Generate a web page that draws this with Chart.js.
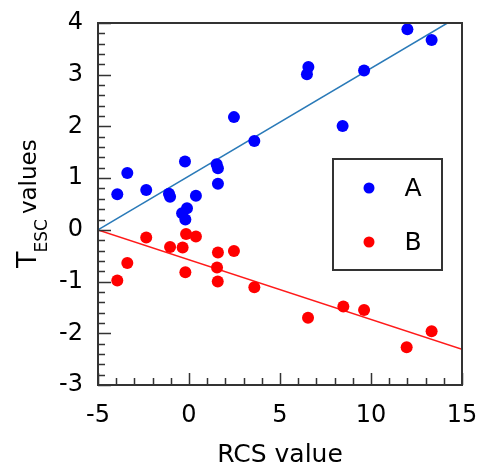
<!DOCTYPE html>
<html>
<head>
<meta charset="utf-8">
<script src="https://cdn.jsdelivr.net/npm/chart.js@4"></script>
<style>
  html, body { margin: 0; padding: 0; background: #fff; }
  canvas { display: block; }
</style>
</head>
<body>
<canvas id="chart" width="481" height="470"></canvas>
<script>
// T_ESC vs RCS scatter, two groups with their fitted lines

// tick labels
const xTicks = [-5, 0, 5, 10, 15];
const yTicks = [-3, -2, -1, 0, 1, 2, 3, 4];

// group A, [rcs, tesc]
const groupA = [
  [12.0, 3.88], [13.33, 3.67], [6.56, 3.15], [6.48, 3.01], [9.62, 3.08],
  [2.47, 2.18], [8.44, 2.01], [3.59, 1.72], [-0.22, 1.32], [-3.39, 1.10],
  [1.52, 1.27], [1.59, 1.19], [1.59, 0.89], [-3.94, 0.69], [-2.35, 0.77],
  [-1.04, 0.64], [-1.1, 0.7], [0.38, 0.66], [-0.11, 0.42], [-0.38, 0.32],
  [-0.20, 0.20]
];

// group B
const groupB = [
  [-2.35, -0.15], [-1.04, -0.33], [-0.35, -0.34], [-0.16, -0.08], [0.38, -0.13],
  [1.59, -0.44], [2.47, -0.41], [-3.39, -0.64], [-3.94, -0.98], [-0.20, -0.82],
  [1.54, -0.73], [1.58, -1.00], [3.59, -1.11], [6.54, -1.70], [8.48, -1.48],
  [9.62, -1.55], [11.96, -2.27], [13.33, -1.96]
];

// fitted lines, end points
const fitA = [[-5, 0], [14.2, 4]];
const fitB = [[-5, 0], [15, -2.31]];

const seriesNames = ["A", "B"];
const blue = "#0000ff";
const red = "#ff0000";

const FONT = "'DejaVu Sans', Verdana, sans-serif";

function toXY(arr) {
  return arr.map(p => ({ x: p[0], y: p[1] }));
}

// frame + inward tick marks, major and minor
const framePlugin = {
  id: "frame",
  afterDatasetsDraw(chart) {
    const { ctx, chartArea: a, scales } = chart;
    const xs = scales.x, ys = scales.y;
    ctx.save();
    ctx.strokeStyle = "#333";
    ctx.lineWidth = 1.5;
    ctx.beginPath();
    // x ticks every 1, longer at multiples of 5
    for (let v = xs.min; v <= xs.max; v += 1) {
      const px = Math.round(xs.getPixelForValue(v)) + 0.5;
      const len = (v % 5 === 0) ? 12 : 7;
      ctx.moveTo(px, a.bottom);
      ctx.lineTo(px, a.bottom - len);
    }
    // y ticks every 0.2, longer at integers
    for (let i = 0; i <= (ys.max - ys.min) * 5; i++) {
      const v = ys.min + i / 5;
      const py = Math.round(ys.getPixelForValue(v)) + 0.5;
      const len = (i % 5 === 0) ? 13 : 7;
      ctx.moveTo(a.left, py);
      ctx.lineTo(a.left + len, py);
    }
    ctx.stroke();
    ctx.lineWidth = 2;
    ctx.strokeRect(a.left, a.top, a.right - a.left, a.bottom - a.top);
    ctx.restore();
  }
};

// y title with subscript, and the boxed legend inside the plot
const labelsPlugin = {
  id: "labels",
  afterDraw(chart) {
    const { ctx } = chart;
    ctx.save();
    ctx.fillStyle = "#000";
    ctx.textBaseline = "alphabetic";
    ctx.textAlign = "left";

    // rotated "T_ESC values"
    ctx.save();
    ctx.translate(36, 268);
    ctx.rotate(-Math.PI / 2);
    ctx.font = "27px " + FONT;
    ctx.fillText("T", 0, 0);
    let w = ctx.measureText("T").width;
    ctx.font = "17px " + FONT;
    ctx.fillText("ESC", w - 1, 11);
    w += ctx.measureText("ESC").width + 4;
    ctx.font = "23px " + FONT;
    ctx.fillText("values", w, 0);
    ctx.restore();

    // legend box
    const bx = 333, by = 159, bw = 109, bh = 111;
    ctx.fillStyle = "#fff";
    ctx.fillRect(bx, by, bw, bh);
    ctx.strokeStyle = "#333";
    ctx.lineWidth = 2;
    ctx.strokeRect(bx, by, bw, bh);
    const rows = [by + 29, by + 83];
    ctx.font = "25px " + FONT;
    ctx.textBaseline = "middle";
    ctx.textAlign = "center";
    chart.data.datasets.slice(0, 2).forEach((ds, i) => {
      ctx.fillStyle = ds.backgroundColor;
      ctx.beginPath();
      ctx.arc(bx + 36, rows[i], 5.5, 0, Math.PI * 2);
      ctx.fill();
      ctx.fillStyle = "#000";
      ctx.fillText(ds.label, bx + 80, rows[i] + 1);
    });
    ctx.restore();
  }
};

Chart.defaults.font.family = FONT;
Chart.defaults.color = "#000";

new Chart(document.getElementById("chart").getContext("2d"), {
  type: "scatter",
  data: {
    datasets: [
      {
        label: seriesNames[0],
        data: toXY(groupA),
        backgroundColor: blue,
        borderColor: blue,
        borderWidth: 0,
        pointRadius: 6
      },
      {
        label: seriesNames[1],
        data: toXY(groupB),
        backgroundColor: red,
        borderColor: red,
        borderWidth: 0,
        pointRadius: 6
      },
      {
        type: "line",
        data: toXY(fitA),
        borderColor: "#2a7ab8",
        borderWidth: 1.5,
        pointRadius: 0,
        fill: false
      },
      {
        type: "line",
        data: toXY(fitB),
        borderColor: "#ff1a1a",
        borderWidth: 1.5,
        pointRadius: 0,
        fill: false
      }
    ]
  },
  options: {
    responsive: false,
    animation: false,
    devicePixelRatio: 1,
    layout: { padding: { top: 23, right: 19, bottom: 0, left: 0 } },
    plugins: {
      legend: { display: false },
      tooltip: { enabled: false }
    },
    scales: {
      x: {
        type: "linear",
        min: -5,
        max: 15,
        afterBuildTicks: (s) => { s.ticks = xTicks.map(v => ({ value: v })); },
        afterFit: (s) => {
          s.height = 85;
          s.paddingLeft = 0;
          s.paddingRight = 0;
        },
        grid: { display: false, drawTicks: false },
        border: { display: false },
        ticks: { font: { size: 24 }, padding: 16, maxRotation: 0 },
        title: {
          display: true,
          text: "RCS value",
          font: { size: 25 },
          padding: 0
        }
      },
      y: {
        type: "linear",
        min: -3,
        max: 4,
        afterBuildTicks: (s) => { s.ticks = yTicks.map(v => ({ value: v })); },
        afterFit: (s) => {
          s.width = 98;
          s.paddingTop = 0;
          s.paddingBottom = 0;
        },
        grid: { display: false, drawTicks: false },
        border: { display: false },
        ticks: { font: { size: 24 }, padding: 15 }
      }
    }
  },
  plugins: [framePlugin, labelsPlugin]
});
</script>
</body>
</html>
